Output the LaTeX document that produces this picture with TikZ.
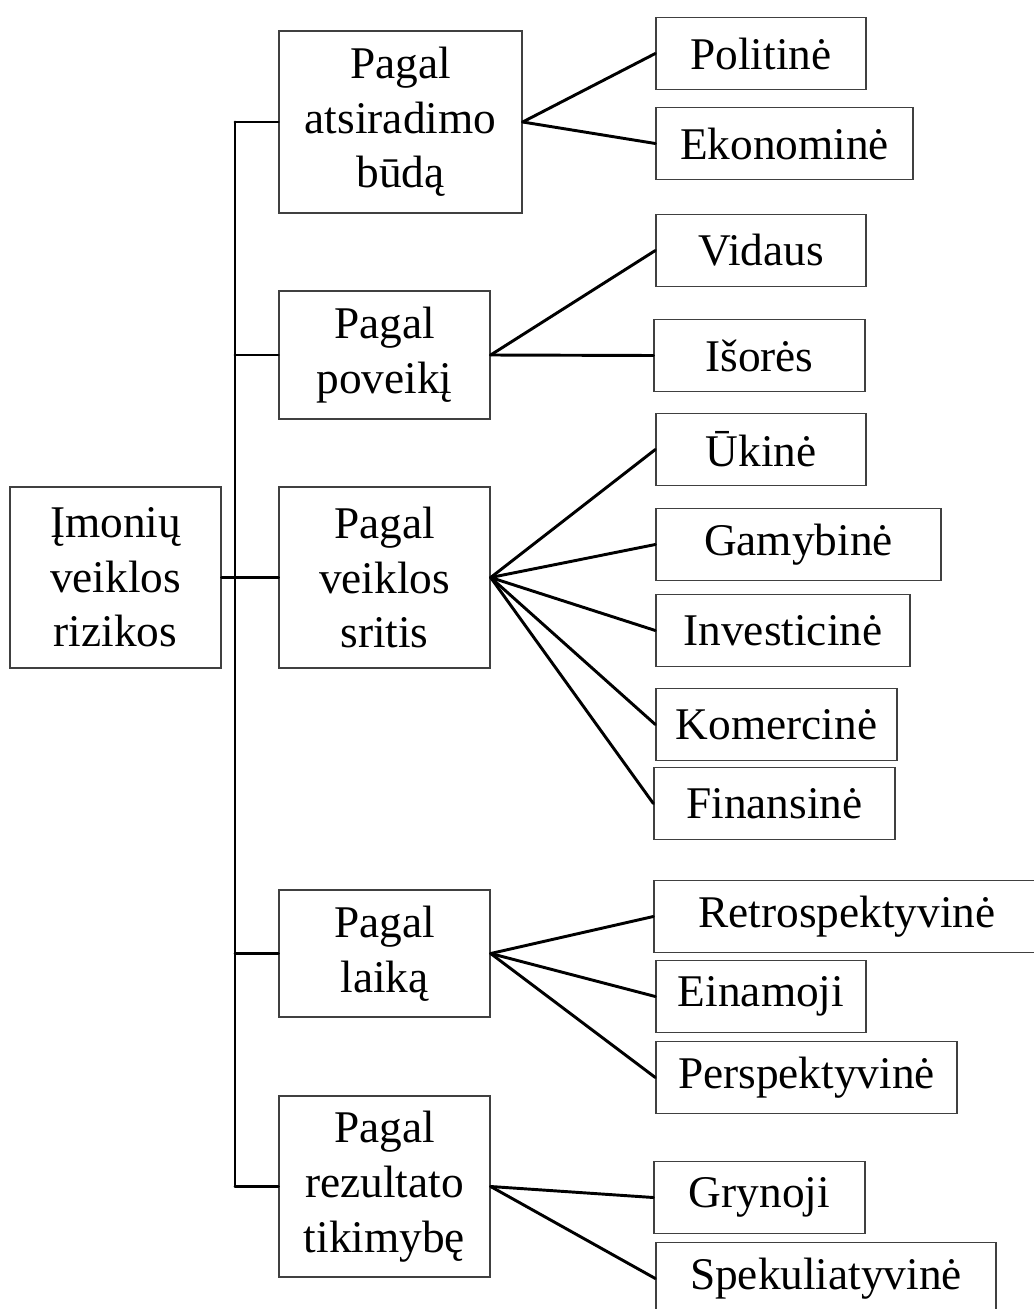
\documentclass[tikz,border=0pt]{standalone}
\usepackage{fontspec}
\setmainfont{Liberation Serif}
\usepackage{tikz}

\tikzset{
  box/.style={draw={rgb,255:red,64;green,64;blue,64}, line width=1pt, inner sep=0pt,
    align=center, font=\fontsize{34}{41}\selectfont},
  leaf/.style={box, minimum height=54pt},
  link/.style={line width=2.2pt, line cap=round, line join=round}
}

\begin{document}
\begin{tikzpicture}[x=0.75pt,y=0.75pt,yscale=-1,xscale=1]
  \useasboundingbox (0,0) rectangle (1034,1309);

  % root and groups
  \node [box, minimum width=158.25pt, minimum height=135.75pt] (root) at (115.5,577.5) {Įmonių\\veiklos\\rizikos};
  \node [box, minimum width=182.25pt, minimum height=136.5pt] (budas) at (400.5,122) {Pagal\\atsiradimo\\būdą};
  \node [box, minimum width=158.25pt, minimum height=96pt] (poveikis) at (384.5,355) {Pagal\\poveikį};
  \node [box, minimum width=158.25pt, minimum height=135.75pt] (sritis) at (384.5,577.5) {Pagal\\veiklos\\sritis};
  \node [box, minimum width=158.25pt, minimum height=95.25pt] (laikas) at (384.5,953.5) {Pagal\\laiką};
  \node [box, minimum width=158.25pt, minimum height=135.75pt] (tikimybe) at (384.5,1186.5) {Pagal\\rezultato\\tikimybę};

  % leaves
  \node [leaf, minimum width=157.5pt] (politine) at (761,53.5) {Politinė};
  \node [leaf, minimum width=192.75pt] (ekonomine) at (784.5,143.5) {Ekonominė};
  \node [leaf, minimum width=157.5pt] (vidaus) at (761,250.5) {Vidaus};
  \node [leaf, minimum width=158.25pt] (isores) at (759.5,355.5) {Išorės};
  \node [leaf, minimum width=157.5pt] (ukine) at (761,449.5) {Ūkinė};
  \node [leaf, minimum width=213.75pt] (gamybine) at (798.5,544.5) {Gamybinė};
  \node [leaf, minimum width=190.5pt] (investicine) at (783,630.5) {Investicinė};
  \node [leaf, minimum width=180.75pt] (komercine) at (776.5,724.5) {Komercinė};
  \node [leaf, minimum width=180.75pt] (finansine) at (774.5,803.5) {Finansinė};
  \node [leaf, minimum width=289.5pt] (retro) at (847,916.5) {Retrospektyvinė};
  \node [leaf, minimum width=157.5pt] (einamoji) at (761,996.5) {Einamoji};
  \node [leaf, minimum width=225.75pt] (perspekt) at (806.5,1077.5) {Perspektyvinė};
  \node [leaf, minimum width=158.25pt] (grynoji) at (759.5,1197.5) {Grynoji};
  \node [leaf, minimum width=255pt] (spekul) at (826,1278.5) {Spekuliatyvinė};

  % trunk
  \coordinate (trk) at (235,0);
  \draw [link] (root.east) -- (sritis.west);
  \draw [link] (budas.west -| trk) -- (tikimybe.west -| trk);
  \foreach \g in {budas,poveikis,sritis,laikas,tikimybe}
    \draw [link] (\g.west -| trk) -- (\g.west);

  % branches
  \foreach \l in {politine,ekonomine}
    \draw [link] (budas.east) -- (\l.west);
  \foreach \l in {vidaus,isores}
    \draw [link] (poveikis.east) -- (\l.west);
  \foreach \l in {ukine,gamybine,investicine,komercine,finansine}
    \draw [link] (sritis.east) -- (\l.west);
  \foreach \l in {retro,einamoji,perspekt}
    \draw [link] (laikas.east) -- (\l.west);
  \foreach \l in {grynoji,spekul}
    \draw [link] (tikimybe.east) -- (\l.west);
\end{tikzpicture}
\end{document}
